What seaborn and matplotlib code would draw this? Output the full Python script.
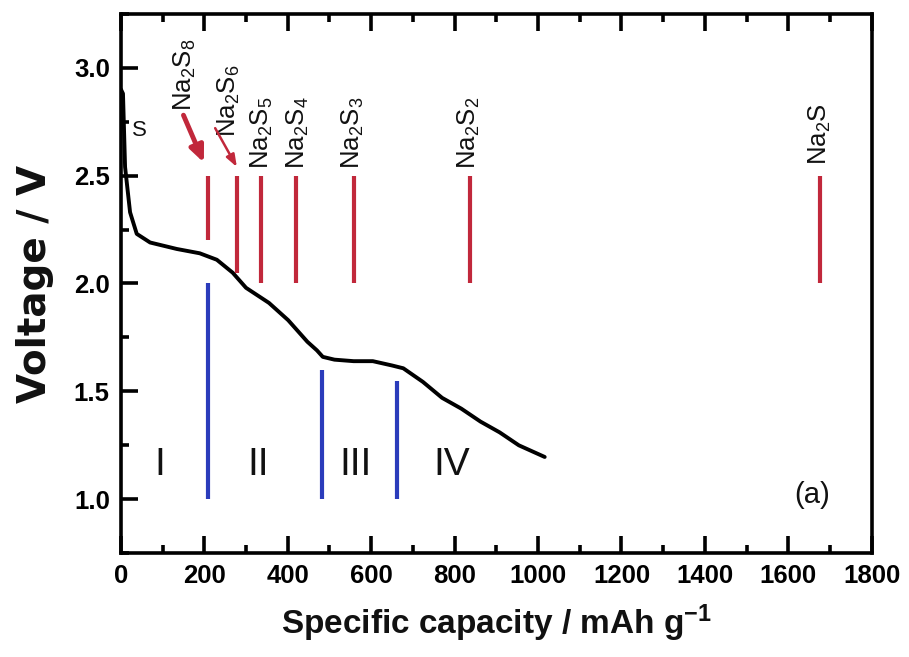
import matplotlib
matplotlib.use("Agg")
import matplotlib.pyplot as plt
import seaborn as sns
import numpy as np
from matplotlib.ticker import MultipleLocator, FixedLocator

# ---- data ----
capacity = [0, 5, 10, 22, 38, 70, 134, 189, 230, 268, 300, 355, 401, 447, 470, 484,
            512, 558, 604, 650, 677, 724, 770, 816, 862, 908, 954, 1016]
voltage = [2.90, 2.88, 2.54, 2.33, 2.23, 2.19, 2.16, 2.14, 2.11, 2.05, 1.98, 1.91, 1.83,
           1.73, 1.69, 1.66, 1.647, 1.64, 1.64, 1.62, 1.607, 1.544, 1.47, 1.42, 1.36,
           1.31, 1.25, 1.196]

species = ["Na$_2$S$_8$", "Na$_2$S$_6$", "Na$_2$S$_5$", "Na$_2$S$_4$",
           "Na$_2$S$_3$", "Na$_2$S$_2$", "Na$_2$S"]
species_cap = [209, 279, 335, 419, 558, 838, 1675]
species_vlow = [2.20, 2.05, 2.0, 2.0, 2.0, 2.0, 2.0]
species_vhigh = [2.5, 2.5, 2.5, 2.5, 2.5, 2.5, 2.5]
label_x = [153, 258, 338, 425, 556, 834, 1675]
label_y = [2.80, 2.68, 2.53, 2.53, 2.53, 2.53, 2.55]

stage_cap = [209, 482, 662]
stage_vhigh = [2.0, 1.6, 1.55]
stage_vlow = [1.0, 1.0, 1.0]
stage_names = ["I", "II", "III", "IV"]
stage_x = [93, 328, 563, 793]

y_ticks = [1.0, 1.5, 2.0, 2.5, 3.0]
y_ticklabels = ["1.0", "1.5", "2.0", "2.5", "3.0"]

RED = "#c1283b"
BLUE = "#2b3cbb"

sns.set_theme(style="ticks")
plt.rcParams["font.family"] = ["Liberation Sans", "DejaVu Sans"]
plt.rcParams["mathtext.fontset"] = "custom"
plt.rcParams["mathtext.rm"] = "Liberation Sans"
plt.rcParams["mathtext.it"] = "Liberation Sans:italic"
plt.rcParams["mathtext.bf"] = "Liberation Sans:bold"
plt.rcParams.update({
    "axes.axisbelow": False,
    "xtick.direction": "in", "ytick.direction": "in",
    "xtick.top": True, "xtick.bottom": True,
    "ytick.left": True, "ytick.right": False,
    "xtick.major.size": 12, "ytick.major.size": 12,
    "xtick.minor.size": 6, "ytick.minor.size": 6,
    "xtick.major.width": 2.6, "ytick.major.width": 2.6,
    "xtick.minor.width": 2.6, "ytick.minor.width": 2.6,
    "xtick.color": "black", "ytick.color": "black",
    "xtick.major.pad": 8, "ytick.major.pad": 8,
})

fig = plt.figure(figsize=(9.09, 6.57), dpi=100)
ax = fig.add_axes([0.133, 0.158, 0.826, 0.821])
ax.set_axisbelow(False)

sns.lineplot(x=capacity, y=voltage, sort=False, color="black", lw=2.8, ax=ax)

ax.vlines(species_cap, species_vlow, species_vhigh, color=RED, lw=3)
ax.vlines(stage_cap, stage_vlow, stage_vhigh, color=BLUE, lw=3)

for name, x, y in zip(species, label_x, label_y):
    ax.text(x, y, name, rotation=90, ha="center", va="bottom", fontsize=18.5,
            color="#111111")

for name, x in zip(stage_names, stage_x):
    ax.text(x, 1.16, name, ha="center", va="center", fontsize=28, color="#111111")

ax.text(45, 2.71, "S", ha="center", va="center", fontsize=16, color="#111111")
ax.text(1657, 1.02, "(a)", ha="center", va="center", fontsize=21, color="#111111")

# arrows
ax.annotate("", xy=(199, 2.56), xytext=(150, 2.78),
            arrowprops=dict(arrowstyle="-|>,head_length=0.8,head_width=0.35",
                            color=RED, lw=3.5, shrinkA=0, shrinkB=0))
ax.annotate("", xy=(278, 2.54), xytext=(226, 2.72),
            arrowprops=dict(arrowstyle="-|>,head_length=0.6,head_width=0.22",
                            color=RED, lw=1.8, shrinkA=0, shrinkB=0))

ax.set_xlim(0, 1800)
ax.set_ylim(0.75, 3.25)
ax.xaxis.set_major_locator(MultipleLocator(200))
ax.xaxis.set_minor_locator(MultipleLocator(100))
ax.yaxis.set_major_locator(FixedLocator(y_ticks))
ax.yaxis.set_minor_locator(MultipleLocator(0.25))
ax.set_yticklabels(y_ticklabels)

for lab in ax.get_xticklabels() + ax.get_yticklabels():
    lab.set_fontweight("bold")
for sp in ax.spines.values():
    sp.set_linewidth(2.6)
    sp.set_color("black")

ax.set_xlabel("Specific capacity / mAh g$^{\\mathbf{-1}}$", fontsize=24,
              fontweight="bold", labelpad=10, color="#111111")
ax.set_ylabel("Voltage / V", fontsize=28, fontweight="bold", labelpad=14,
              family=["DejaVu Sans"], color="#111111")

ax.tick_params(axis="x", which="both", direction="in", top=True, bottom=True,
               color="black")
ax.tick_params(axis="y", which="both", direction="in", left=True, right=False,
               color="black")
ax.tick_params(axis="both", which="major", length=12, width=2.6, labelsize=18.5)
ax.tick_params(axis="both", which="minor", length=6, width=2.6)
for lab in ax.get_xticklabels() + ax.get_yticklabels():
    lab.set_fontweight("bold")

fig.canvas.draw()
for axis, second in ((ax.xaxis, True), (ax.yaxis, False)):
    for ticks, size in ((axis.get_major_ticks(), 12), (axis.get_minor_ticks(), 6)):
        for t in ticks:
            for line, vis in ((t.tick1line, True), (t.tick2line, second)):
                line.set_visible(vis)
                line.set_markersize(size)
                line.set_markeredgewidth(2.6)
                line.set_color("black")
                line.set_zorder(3)
fig.savefig("out.png", dpi=100)
